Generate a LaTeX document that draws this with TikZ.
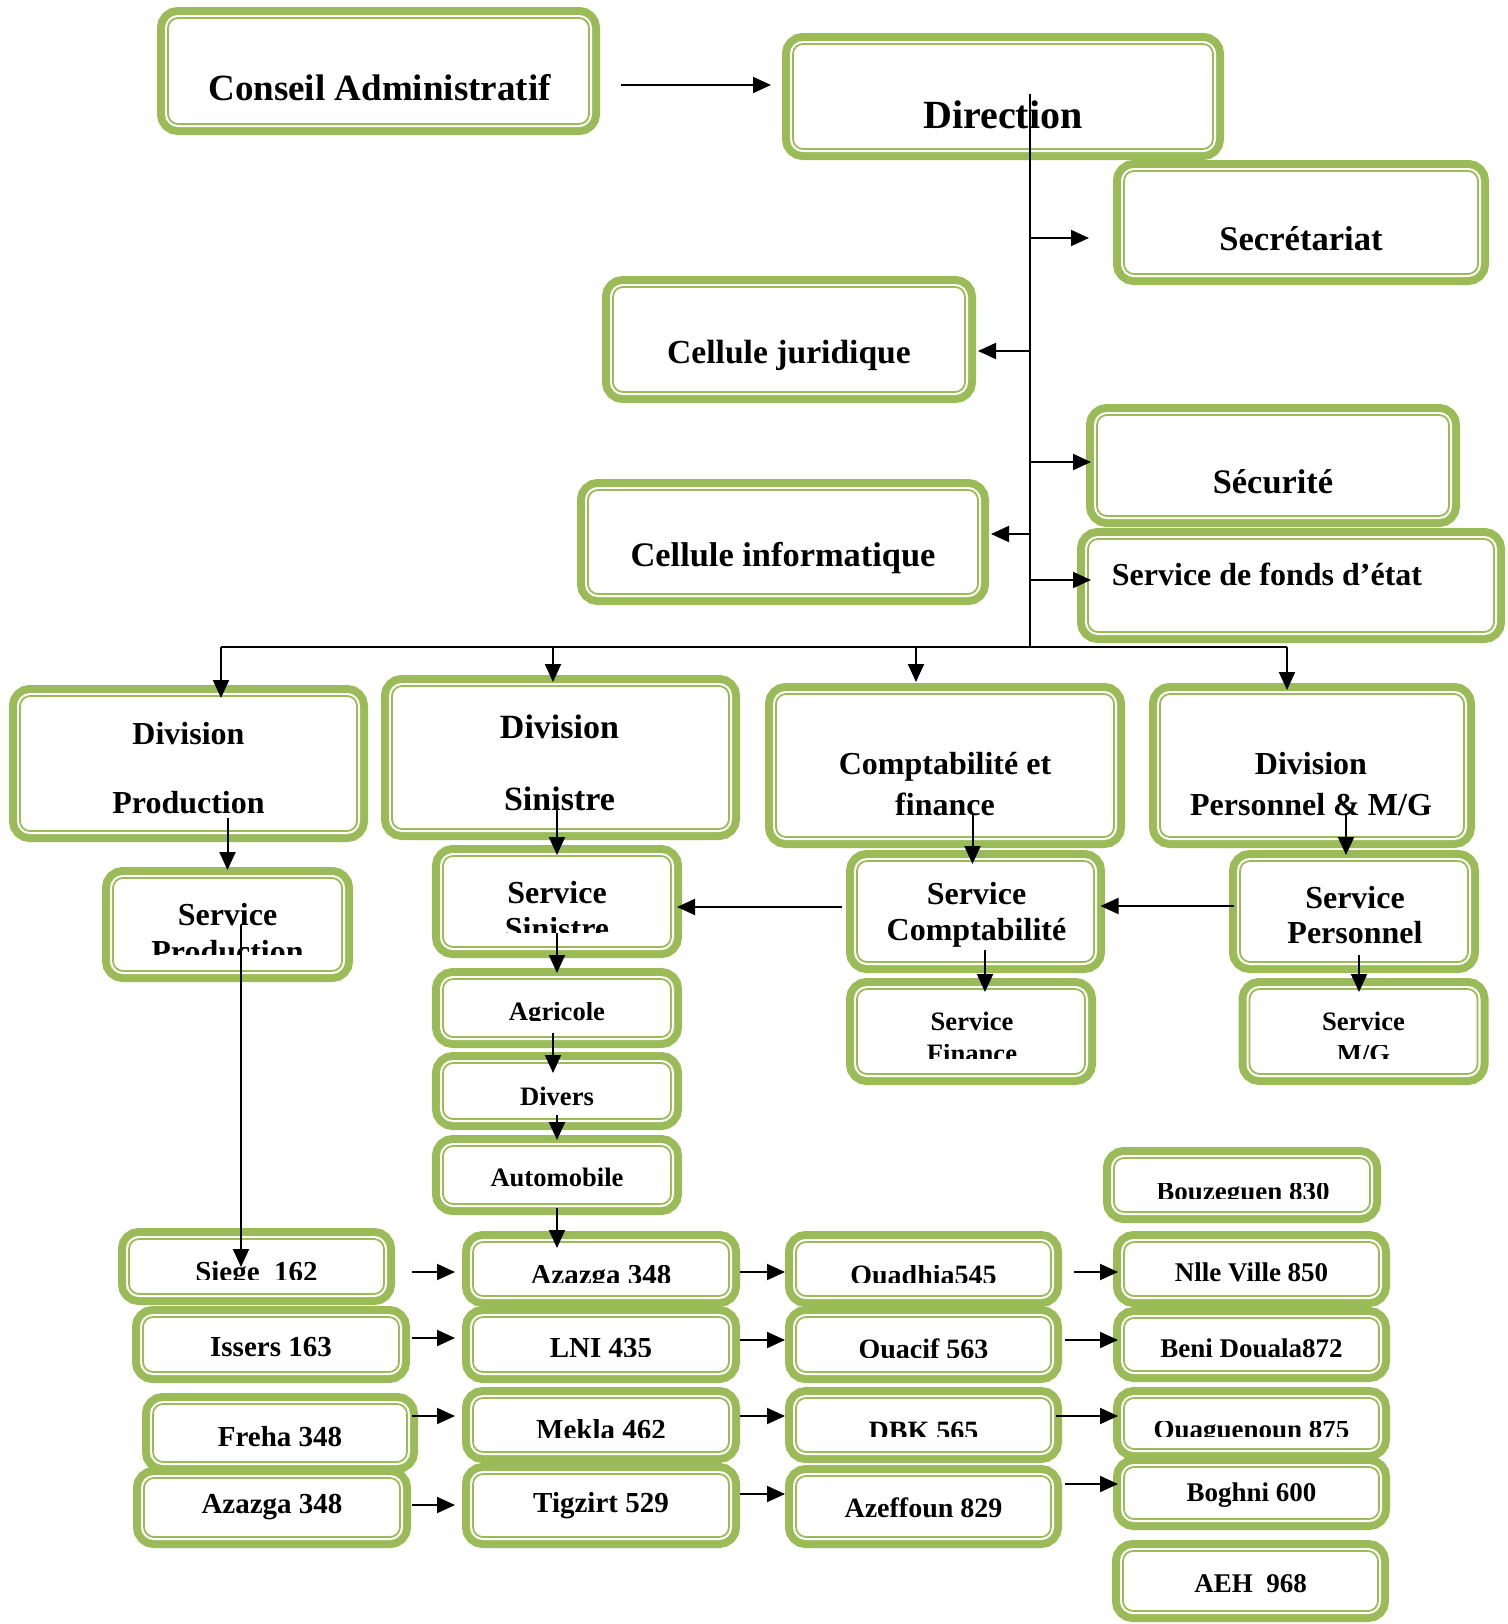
\documentclass[tikz,border=0pt]{standalone}
\usepackage{fontspec}
\setmainfont{Liberation Serif}
\usepackage{trimclip}
\usetikzlibrary{arrows.meta,calc}
\definecolor{ogreen}{HTML}{9BBB59}
% text whose lower edge is cut off by its frame
\newcommand{\cuttxt}[2]{\raisebox{#1}{\clipbox{0pt #1 0pt 0pt}{\raisebox{0pt}[\height][0pt]{#2}}}}
\tikzset{
  gbox/.style 2 args={draw=ogreen, line width=0.9pt, fill=white,
    rounded corners=5pt, inner sep=0pt, outer sep=5.5pt,
    minimum width=#1*0.5pt-11pt, minimum height=#2*0.5pt-11pt,
    preaction={draw=ogreen, line width=11pt},
    preaction={draw=white, line width=3pt}},
  txt/.style 2 args={font=\bfseries\fontsize{#1}{#2}\selectfont, align=center, inner sep=0pt},
  arr/.style={-{Triangle[length=9pt,width=8pt]}, line width=1pt},
  trunkline/.style={line width=0.7pt},
  busline/.style={line width=1pt},
}
\begin{document}
\begin{tikzpicture}[x=0.5pt, y=-0.5pt]
  \useasboundingbox (0,0) rectangle (1508,1624);
  % top
  \node[gbox={443}{128}, label={[txt={18.5pt}{22pt}, shift={(1,17)}]center:Conseil Administratif}] (conseil) at (378.5,71) {};
  \node[gbox={442}{127}, label={[txt={20pt}{24pt}, shift={(0,18.5)}]center:Direction}] (direction) at (1003,96.5) {};
  \node[gbox={376}{125}, label={[txt={17.3pt}{20pt}, shift={(0,16)}]center:Secrétariat}] (secretariat) at (1301,222.5) {};
  \node[gbox={374}{127}, label={[txt={16.8pt}{20pt}, shift={(0,15.5)}]center:Cellule juridique}] (juridique) at (789,339.5) {};
  \node[gbox={374}{123}, label={[txt={17.2pt}{20pt}, shift={(0,16)}]center:Sécurité}] (securite) at (1273,465.5) {};
  \node[gbox={412}{126}, label={[txt={17.2pt}{20pt}, shift={(0,16)}]center:Cellule informatique}] (informatique) at (783,542) {};
  \node[gbox={428}{115}, label={[txt={16pt}{19pt}, shift={(-24,-11.5)}]center:Service de fonds d’état}] (fonds) at (1291,585.5) {};
  % divisions
  \node[gbox={359}{157}, label={[txt={16pt}{34.5pt}, shift={(0,5)}]center:Division\\Production}] (divprod) at (188.5,763.5) {};
  \node[gbox={359}{165}, label={[txt={17pt}{36pt}, shift={(-1,5)}]center:Division\\Sinistre}] (divsin) at (560.5,757.5) {};
  \node[gbox={360}{165}, label={[txt={16pt}{20.5pt}, shift={(0,19)}]center:Comptabilité et\\finance}] (compta) at (945,765.5) {};
  \node[gbox={326}{165}, label={[txt={16pt}{20.5pt}, shift={(-1,19)}]center:Division\\Personnel \& M/G}] (divpers) at (1312,765.5) {};
  % services
  \node[gbox={251}{115}, label={[txt={16pt}{18.5pt}, shift={(0,8)}]center:Service\\\cuttxt{4pt}{Production}}] (servprod) at (227.5,924.5) {};
  \node[gbox={250}{113}, label={[txt={16pt}{18pt}, shift={(0,9)}]center:Service\\\cuttxt{3.5pt}{Sinistre}}] (servsin) at (557,901.5) {};
  \node[gbox={259}{123}, label={[txt={16pt}{17.75pt}, shift={(1,3.5)}]center:Service\\Comptabilité}] (scompta) at (975.5,911.5) {};
  \node[gbox={250}{123}, label={[txt={16pt}{17.75pt}, shift={(1,3.5)}]center:Service\\Personnel}] (spers) at (1354,911.5) {};
  \node[gbox={250}{107}, label={[txt={13.3pt}{16pt}, shift={(1,6)}]center:Service\\\cuttxt{2.3pt}{Finance}}] (sfin) at (971,1031.5) {};
  \node[gbox={250}{107}, label={[txt={13.3pt}{16pt}, shift={(0,6)}]center:Service\\\cuttxt{2.3pt}{M/G}}] (smg) at (1363.5,1031.5) {};
  \node[gbox={250}{80}, label={[txt={13.3pt}{16pt}, shift={(0,3.5)}]center:\cuttxt{0pt}{Agricole}}] (agricole) at (557,1008) {};
  \node[gbox={250}{78}, label={[txt={13.3pt}{16pt}, shift={(0,5.5)}]center:Divers}] (divers) at (557,1091) {};
  \node[gbox={250}{80}, label={[txt={13.3pt}{16pt}, shift={(0,2.5)}]center:Automobile}] (auto) at (557,1175) {};
  % agencies, first column
  \node[gbox={277}{77}, label={[txt={14.5pt}{17pt}, shift={(0,5)}]center:\cuttxt{1.1pt}{Siege\ \ 162}}] (siege) at (256.5,1266.5) {};
  \node[gbox={278}{77}, label={[txt={14.5pt}{17pt}, shift={(0,3)}]center:Issers 163}] (issers) at (271,1344.5) {};
  \node[gbox={276}{80}, label={[txt={14.5pt}{17pt}, shift={(0,4)}]center:Freha 348}] (freha) at (280,1433) {};
  \node[gbox={278}{81}, label={[txt={14.5pt}{17pt}, shift={(0,0)}]center:Azazga 348}] (azazgaA) at (272,1507.5) {};
  % second column
  \node[gbox={278}{76}, label={[txt={14.5pt}{17pt}, shift={(0,6)}]center:\cuttxt{1.1pt}{Azazga 348}}] (azazgaB) at (601,1269) {};
  \node[gbox={278}{77}, label={[txt={14.5pt}{17pt}, shift={(0,3)}]center:\cuttxt{0.5pt}{LNI 435}}] (lni) at (601,1344.5) {};
  \node[gbox={278}{76}, label={[txt={14.5pt}{17pt}, shift={(0,4.5)}]center:\cuttxt{1.1pt}{Mekla 462}}] (mekla) at (601,1425) {};
  \node[gbox={278}{85}, label={[txt={14.5pt}{17pt}, shift={(0,0)}]center:Tigzirt 529}] (tigzirt) at (601,1505.5) {};
  % third column
  \node[gbox={277}{76}, label={[txt={14pt}{17pt}, shift={(0,6)}]center:\cuttxt{1.1pt}{Ouadhia545}}] (ouadhia) at (923.5,1269) {};
  \node[gbox={277}{77}, label={[txt={14pt}{17pt}, shift={(0,4)}]center:\cuttxt{0.5pt}{Ouacif 563}}] (ouacif) at (923.5,1344.5) {};
  \node[gbox={277}{76}, label={[txt={14pt}{17pt}, shift={(0,6)}]center:\cuttxt{1.7pt}{DBK 565}}] (dbk) at (923.5,1425) {};
  \node[gbox={277}{83}, label={[txt={14pt}{17pt}, shift={(0,1)}]center:Azeffoun 829}] (azeffoun) at (923.5,1506.5) {};
  % fourth column
  \node[gbox={278}{76}, label={[txt={13.5pt}{16pt}, shift={(1,7)}]center:\cuttxt{1pt}{Bouzeguen 830}}] (bouzeguen) at (1242,1185) {};
  \node[gbox={277}{76}, label={[txt={13.5pt}{16pt}, shift={(0,3)}]center:Nlle Ville 850}] (nlle) at (1251.5,1269) {};
  \node[gbox={277}{75}, label={[txt={13.5pt}{16pt}, shift={(0,3.5)}]center:Beni Douala872}] (beni) at (1251.5,1344.5) {};
  \node[gbox={277}{73}, label={[txt={13.5pt}{16pt}, shift={(0,6.5)}]center:\cuttxt{1pt}{Ouaguenoun 875}}] (ouaguenoun) at (1251.5,1423.5) {};
  \node[gbox={277}{74}, label={[txt={13.5pt}{16pt}, shift={(0,2.5)}]center:Boghni 600}] (boghni) at (1251.5,1493) {};
  \node[gbox={277}{82}, label={[txt={13.5pt}{16pt}, shift={(0,3)}]center:AEH\ \ 968}] (aeh) at (1250.5,1581) {};

  % trunk and bus
  \coordinate (stem) at (1030,94);
  \coordinate (hub) at (1030,647);
  \coordinate (b1) at (1030,238);
  \coordinate (b2) at (1030,351);
  \coordinate (b3) at (1030,462);
  \coordinate (b4) at (1030,534);
  \coordinate (b5) at (1030,580);
  \coordinate (d1) at (221,647);
  \coordinate (d2) at (553,647);
  \coordinate (d3) at (916,647);
  \coordinate (d4) at (1287,647);
  \draw[trunkline] (stem) -- (hub);
  \draw[busline] (d1) -- (d4);

  \begin{scope}[arr]
    \draw[shorten <=10.5pt, shorten >=5.5pt] ($(conseil.east)+(0,14)$) -- ($(direction.west)+(0,-11.5)$);
    \draw[shorten >=12pt] (b1) -- (b1 -| secretariat.west);
    \draw[shorten >=1pt] (b2) -- (b2 -| juridique.east);
    \draw (b3) -- ($(b3 -| securite.west)+(5,0)$);
    \draw[shorten >=1pt] (b4) -- (b4 -| informatique.east);
    \draw (b5) -- ($(b5 -| fonds.west)+(14,0)$);
    % bus to divisions
    \draw (d1) -- ($(d1 |- divprod.north)+(0,13)$);
    \draw (d2) -- ($(d2 |- divsin.north)+(0,7)$);
    \draw (d3) -- ($(d3 |- compta.north)+(0,-1)$);
    \draw (d4) -- ($(d4 |- divpers.north)+(0,7)$);
    % divisions to services
    \draw ($(servprod.north |- divprod.south)+(0,-24)$) -- ($(servprod.north)+(0,3)$);
    \draw ($(servsin.north |- divsin.south)+(0,-32)$) -- ($(servsin.north)+(0,10)$);
    \draw ($(scompta.north |- compta.south)+(-3,-33)$) -- ($(scompta.north)+(-3,14)$);
    \draw ($(spers.north |- divpers.south)+(-8,-35)$) -- ($(spers.north)+(-8,5)$);
    \draw ($(servprod.south)+(13.5,-57)$) -- ($(servprod.south |- siege.north)+(13.5,39)$);
    \draw ($(servsin.south)+(0,-25)$) -- ($(agricole.north)+(0,5)$);
    \draw ($(agricole.south)+(-4,-15)$) -- ($(divers.north)+(-4,21)$);
    \draw ($(divers.south)+(0,-15)$) -- ($(auto.north)+(0,5)$);
    \draw ($(auto.south)+(0,-7)$) -- ($(auto.south |- azazgaB.north)+(0,17)$);
    \draw ($(scompta.south)+(9.5,-23)$) -- ($(scompta.south |- sfin.north)+(9.5,14)$);
    \draw ($(spers.south)+(5,-18)$) -- ($(spers.south |- smg.north)+(5,14)$);
    \draw[shorten <=-2.5pt, shorten >=-2.25pt] ($(spers.west)+(0,-5.5)$) -- ($(scompta.east)+(0,-5.5)$);
    \draw[shorten <=2pt, shorten >=-2.5pt] ($(scompta.west)+(0,-4.5)$) -- ($(servsin.east)+(0,5.5)$);
    % agencies
    \draw[shorten <=8.5pt, shorten >=3.5pt] ($(siege.east)+(0,5.5)$) -- ($(azazgaB.west)+(0,3)$);
    \draw[shorten <=1pt, shorten >=3.5pt] ($(issers.east)+(0,-6.5)$) -- ($(lni.west)+(0,-6.5)$);
    \draw[shorten <=-3pt, shorten >=3.5pt] ($(freha.east)+(0,-17)$) -- ($(mekla.west)+(0,-9)$);
    \draw[shorten <=0.5pt, shorten >=3.5pt] ($(azazgaA.east)+(0,-2.5)$) -- ($(tigzirt.west)+(0,-0.5)$);
    \draw ($(azazgaB.east)+(0,3)$) -- ($(ouadhia.west)+(0,3)$);
    \draw ($(lni.east)+(0,-4.5)$) -- ($(ouacif.west)+(0,-4.5)$);
    \draw ($(mekla.east)+(0,-9)$) -- ($(dbk.west)+(0,-9)$);
    \draw ($(tigzirt.east)+(0,-11.5)$) -- ($(azeffoun.west)+(0,-12.5)$);
    \draw[shorten <=6pt, shorten >=-2.5pt] ($(ouadhia.east)+(0,3)$) -- ($(nlle.west)+(0,3)$);
    \draw[shorten <=1.5pt, shorten >=-2.5pt] ($(ouacif.east)+(0,-4.5)$) -- ($(beni.west)+(0,-4.5)$);
    \draw[shorten <=-3pt, shorten >=-2.5pt] ($(dbk.east)+(0,-9)$) -- ($(ouaguenoun.west)+(0,-7.5)$);
    \draw[shorten <=1.5pt, shorten >=-2.5pt] ($(azeffoun.east)+(0,-22.5)$) -- ($(boghni.west)+(0,-9)$);
  \end{scope}
\end{tikzpicture}
\end{document}
